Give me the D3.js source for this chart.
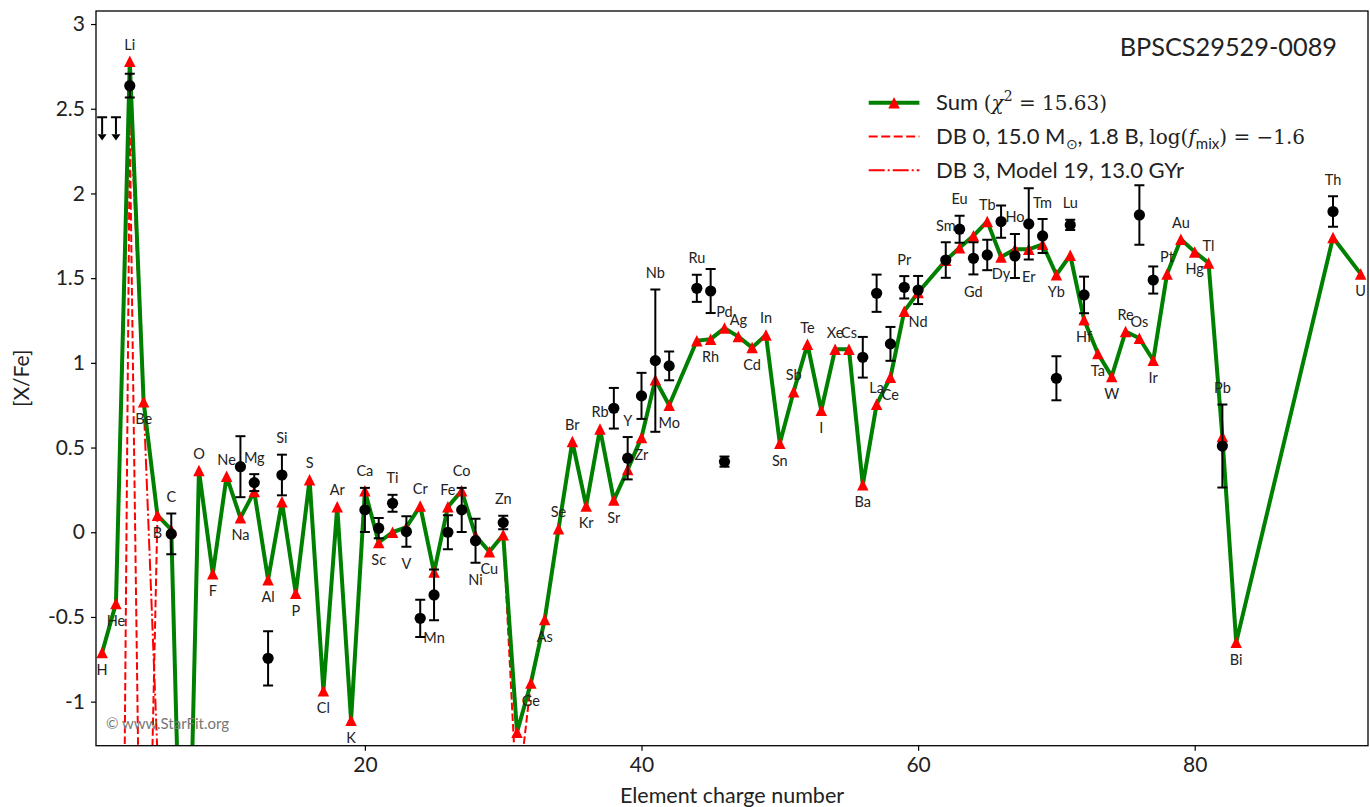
<!DOCTYPE html>
<html>
<head>
<meta charset="utf-8">
<script src="https://cdn.jsdelivr.net/npm/d3@7"></script>
<style>
  body { margin: 0; background: #fff; }
  text { font-family: Lato, "Open Sans", sans-serif; }
</style>
</head>
<body>
<svg id="chart" width="1370" height="807"></svg>
<script>
// Element symbols, Z = 1 .. 92
const elements = ["H","He","Li","Be","B","C","N","O","F","Ne",
  "Na","Mg","Al","Si","P","S","Cl","Ar",
  "K","Ca","Sc","Ti","V","Cr","Mn","Fe","Co","Ni","Cu","Zn","Ga","Ge","As","Se","Br","Kr",
  "Rb","Sr","Y","Zr","Nb","Mo","Tc","Ru","Rh","Pd","Ag","Cd","In","Sn","Sb","Te","I","Xe",
  "Cs","Ba","La","Ce","Pr","Nd","Pm","Sm","Eu","Gd","Tb","Dy","Ho","Er","Tm","Yb","Lu",
  "Hf","Ta","W","Re","Os","Ir","Pt","Au","Hg","Tl","Pb","Bi","Po","At","Rn",
  "Fr","Ra","Ac","Th","Pa","U"];

// Summed model [X/Fe], null where the model has no value
const sumModel = [-0.71,-0.42,2.78,0.77,0.10,0.015,-3.1,0.365,-0.245,0.33,
  0.085,0.24,-0.28,0.18,-0.36,0.31,-0.935,0.15,-1.11,0.245,
  -0.06,0.0,0.03,0.155,-0.235,0.15,0.245,-0.02,-0.115,-0.015,
  -1.18,-0.89,-0.515,0.02,0.535,0.155,0.61,0.19,0.37,0.56,
  0.90,0.75,null,1.13,1.14,1.205,1.155,1.09,1.165,0.525,
  0.83,1.11,0.72,1.08,1.08,0.28,0.755,0.915,1.305,1.415,
  null,1.605,1.68,1.75,1.835,1.625,1.67,1.67,1.70,1.52,
  1.635,1.255,1.055,0.92,1.185,1.145,1.015,1.525,1.73,1.655,
  1.59,0.565,-0.65,null,null,null,null,null,null,1.74,
  null,1.525];

// Component DB 0 (massive star)
const db0Model = [-8.0,-7.6,2.37,-3.7,0.10,0.015,-3.1,0.365,-0.245,0.33,
  0.085,0.24,-0.28,0.18,-0.36,0.31,-0.935,0.15,-1.11,0.245,
  -0.06,0.0,0.03,0.155,-0.235,0.15,0.245,-0.02,-0.115,-0.015,
  -1.6,-0.89,-0.515,0.02,0.535,0.155,0.61,0.19,0.37,0.56,
  0.90,0.75,null,1.13,1.14,1.205,1.155,1.09,1.165,0.525,
  0.83,1.11,0.72,1.08,1.08,0.28,0.755,0.915,1.305,1.415,
  null,1.605,1.68,1.75,1.835,1.625,1.67,1.67,1.70,1.52,
  1.635,1.255,1.055,0.92,1.185,1.145,1.015,1.525,1.73,1.655,
  1.59,0.565,-0.65,null,null,null,null,null,null,1.74,
  null,1.525];

// Component DB 3 (old population), light elements H .. C
const db3Model = [-0.71,-0.42,2.57,0.77,-1.31,-6.0];

// Measured abundances
const obsElements = ["Li","C","Na","Mg","Al","Si","Ca","Sc","Ti","V",
  "Cr","Mn","Fe","Co","Ni","Zn","Sr","Y","Zr","Nb",
  "Mo","Ru","Rh","Pd","Ba","La","Ce","Pr","Nd","Sm",
  "Eu","Gd","Tb","Dy","Ho","Er","Tm","Yb","Lu","Hf",
  "Os","Ir","Pb","Th"];
const obsValues = [2.636,-0.01,0.387,0.293,-0.744,0.338,0.132,0.024,0.171,0.004,
  -0.508,-0.37,0.0,0.132,-0.05,0.057,0.732,0.437,0.805,1.013,
  0.982,1.44,1.424,0.417,1.033,1.411,1.112,1.446,1.43,1.607,
  1.789,1.617,1.637,1.834,1.631,1.82,1.749,0.909,1.814,1.401,
  1.873,1.489,0.509,1.893];
const obsErrors = [0.07,0.12,0.18,0.05,0.16,0.12,0.13,0.06,0.05,0.09,
  0.11,0.15,0.1,0.13,0.13,0.04,0.12,0.125,0.136,0.42,
  0.085,0.08,0.13,0.03,0.12,0.11,0.10,0.066,0.083,0.105,
  0.08,0.095,0.09,0.095,0.13,0.21,0.10,0.13,0.03,0.108,
  0.176,0.08,0.245,0.09];

// Upper limits
const limitElements = ["H","He"];
const limitValues = [2.45, 2.45];

// Label side per element: a = above, b = below, . = none
const labelSide = ("bbabbababa" + "babababa" + "babababaabbabbbaab" +
  "ababab.abaababaaba" + "ababab.aabababababbbaabaabaab..." + "...a.b").split("");

const xTicks = [20, 40, 60, 80];
const yTicks = [3, 2.5, 2, 1.5, 1, 0.5, 0, -0.5, -1];

const starName = "BPSCS29529-0089";

// ---------------------------------------------------------------
const svg = d3.select("#chart");
svg.append("rect").attr("width", 1370).attr("height", 807).attr("fill", "#fff");

const plot = { left: 96, right: 1368, top: 11, bottom: 745.7 };
const x = d3.scaleLinear().domain([0.557, 92.53]).range([plot.left, plot.right]);
const y = d3.scaleLinear().domain([-1.26, 3.077]).range([plot.bottom, plot.top]);

svg.append("clipPath").attr("id", "plotClip")
  .append("rect")
  .attr("x", plot.left).attr("y", plot.top)
  .attr("width", plot.right - plot.left).attr("height", plot.bottom - plot.top);

const zOf = sym => elements.indexOf(sym) + 1;
const toPoints = arr => arr.map((v, i) => ({ z: i + 1, v })).filter(d => d.v !== null);

const line = d3.line().x(d => x(d.z)).y(d => y(d.v));
const g = svg.append("g").attr("clip-path", "url(#plotClip)");

// component lines
g.append("path").datum(toPoints(db0Model))
  .attr("d", line).attr("fill", "none")
  .attr("stroke", "#ff0000").attr("stroke-width", 2)
  .attr("stroke-dasharray", "7.5,3.2");
g.append("path").datum(toPoints(db3Model))
  .attr("d", line).attr("fill", "none")
  .attr("stroke", "#ff0000").attr("stroke-width", 2)
  .attr("stroke-dasharray", "12,3,2,3");

// summed model
const sumPts = toPoints(sumModel);
g.append("path").datum(sumPts)
  .attr("d", line).attr("fill", "none")
  .attr("stroke", "#008000").attr("stroke-width", 4)
  .attr("stroke-linejoin", "round");

const ms = 11.5;
const triPath = `M0,${-ms / 2}L${ms / 2},${ms / 2}L${-ms / 2},${ms / 2}Z`;
g.selectAll(".tri").data(sumPts).enter().append("path")
  .attr("class", "tri")
  .attr("d", triPath)
  .attr("transform", d => `translate(${x(d.z)},${y(d.v)})`)
  .attr("fill", "#ff0000");

// element labels
const obsByZ = {};
obsElements.forEach((s, i) => { obsByZ[zOf(s)] = { v: obsValues[i], e: obsErrors[i] }; });

const labelData = sumPts.filter(d => labelSide[d.z - 1] !== ".").map(d => {
  const side = labelSide[d.z - 1];
  const o = obsByZ[d.z];
  const useObs = o && Math.abs(o.v - d.v) < 0.4;
  let py;
  if (side === "a") {
    const top = useObs ? Math.max(d.v, o.v + o.e) : d.v;
    py = y(top) - 17;
  } else {
    const bot = useObs ? Math.min(d.v, o.v - o.e) : d.v;
    py = y(bot) + 17;
  }
  return { z: d.z, sym: elements[d.z - 1], py };
}).filter(d => d.py > plot.top && d.py < plot.bottom - 4);

svg.append("g").selectAll("text").data(labelData).enter().append("text")
  .attr("x", d => x(d.z)).attr("y", d => d.py)
  .attr("text-anchor", "middle").attr("dominant-baseline", "central")
  .attr("font-size", 14.5).attr("fill", "#222")
  .text(d => d.sym);

// observations with error bars
const obs = obsElements.map((s, i) => ({ z: zOf(s), v: obsValues[i], e: obsErrors[i] }));
const og = svg.append("g").attr("clip-path", "url(#plotClip)");
const cap = 5;
obs.forEach(d => {
  const cx = x(d.z), y1 = y(d.v + d.e), y2 = y(d.v - d.e);
  og.append("line").attr("x1", cx).attr("x2", cx).attr("y1", y1).attr("y2", y2)
    .attr("stroke", "#000").attr("stroke-width", 2);
  [y1, y2].forEach(yy => og.append("line")
    .attr("x1", cx - cap).attr("x2", cx + cap).attr("y1", yy).attr("y2", yy)
    .attr("stroke", "#000").attr("stroke-width", 2));
  og.append("circle").attr("cx", cx).attr("cy", y(d.v)).attr("r", 5.6).attr("fill", "#000");
});

// upper limits
limitElements.forEach((s, i) => {
  const cx = x(zOf(s)), top = y(limitValues[i]), base = y(limitValues[i] - 0.1), tip = y(limitValues[i] - 0.137);
  og.append("line").attr("x1", cx).attr("x2", cx).attr("y1", top).attr("y2", base)
    .attr("stroke", "#000").attr("stroke-width", 2);
  og.append("line").attr("x1", cx - cap).attr("x2", cx + cap).attr("y1", top).attr("y2", top)
    .attr("stroke", "#000").attr("stroke-width", 2);
  og.append("path").attr("d", `M${cx - 4.5},${base}L${cx + 4.5},${base}L${cx},${tip}Z`).attr("fill", "#000");
});

// frame and axes
svg.append("rect")
  .attr("x", plot.left).attr("y", plot.top)
  .attr("width", plot.right - plot.left).attr("height", plot.bottom - plot.top)
  .attr("fill", "none").attr("stroke", "#000").attr("stroke-width", 1.3);

const xAxis = svg.append("g").attr("transform", `translate(0,${plot.bottom})`)
  .call(d3.axisBottom(x).tickValues(xTicks).tickSize(5).tickPadding(6).tickFormat(d => String(d)));
const yAxis = svg.append("g").attr("transform", `translate(${plot.left},0)`)
  .call(d3.axisLeft(y).tickValues(yTicks).tickSize(5).tickPadding(6).tickFormat(d => String(d)));
[xAxis, yAxis].forEach(a => {
  a.select(".domain").remove();
  a.selectAll(".tick line").attr("stroke", "#000").attr("stroke-width", 1.2);
  a.selectAll(".tick text").attr("font-size", 21).attr("fill", "#222")
    .attr("font-family", "Lato, sans-serif");
});

svg.append("text").attr("x", (plot.left + plot.right) / 2).attr("y", 803)
  .attr("text-anchor", "middle").attr("font-size", 21.5).attr("fill", "#222")
  .text("Element charge number");
svg.append("text").attr("transform", `translate(29,${(plot.top + plot.bottom) / 2}) rotate(-90)`)
  .attr("text-anchor", "middle").attr("font-size", 21).attr("fill", "#222")
  .text("[X/Fe]");

// star name
svg.append("text").attr("x", 1337).attr("y", 56)
  .attr("text-anchor", "end").attr("font-size", 25.3).attr("fill", "#222")
  .text(starName);

// copyright
svg.append("text").attr("x", 106).attr("y", 729)
  .attr("font-size", 15).attr("fill", "#777")
  .text("\u00a9 www.StarFit.org");

// legend
const leg = svg.append("g");
const legX0 = 868.7, legX1 = 919.4, legTx = 936;
const rows = [102.8, 136.6, 170.3];
leg.append("line").attr("x1", legX0).attr("x2", legX1).attr("y1", rows[0]).attr("y2", rows[0])
  .attr("stroke", "#008000").attr("stroke-width", 4);
leg.append("path").attr("d", triPath)
  .attr("transform", `translate(${(legX0 + legX1) / 2},${rows[0]})`).attr("fill", "#ff0000");
leg.append("line").attr("x1", legX0).attr("x2", legX1).attr("y1", rows[1]).attr("y2", rows[1])
  .attr("stroke", "#ff0000").attr("stroke-width", 2).attr("stroke-dasharray", "9,3.5");
leg.append("line").attr("x1", legX0).attr("x2", legX1).attr("y1", rows[2]).attr("y2", rows[2])
  .attr("stroke", "#ff0000").attr("stroke-width", 2).attr("stroke-dasharray", "16,3,2,3");

const serif = "'DejaVu Serif', 'Liberation Serif', serif";
const fs = 22;
const mfs = 20;
// row 1
const t1 = leg.append("text").attr("x", legTx).attr("y", rows[0] + 7.5).attr("font-size", fs).attr("fill", "#222");
t1.append("tspan").text("Sum ");
t1.append("tspan").attr("font-family", serif).attr("font-size", mfs).text("(");
t1.append("tspan").attr("font-family", serif).attr("font-size", mfs).attr("font-style", "italic").text("\u03c7");
t1.append("tspan").attr("font-family", serif).attr("font-size", 14).attr("dy", -9).text("2");
t1.append("tspan").attr("font-family", serif).attr("font-size", mfs).attr("dy", 9).text(" = 15.63)");
// row 2
const t2 = leg.append("text").attr("x", legTx).attr("y", rows[1] + 7.5).attr("font-size", fs).attr("fill", "#222");
t2.append("tspan").text("DB 0, 15.0 M");
t2.append("tspan").attr("font-size", 14).attr("dy", 5).text("\u2299");
t2.append("tspan").attr("dy", -5).text(", 1.8 B, ");
t2.append("tspan").attr("font-family", serif).attr("font-size", mfs).text("log(");
t2.append("tspan").attr("font-family", serif).attr("font-size", mfs).attr("font-style", "italic").text("f");
t2.append("tspan").attr("font-size", 15).attr("dy", 5).text("mix");
t2.append("tspan").attr("font-family", serif).attr("font-size", mfs).attr("dy", -5).text(") = \u22121.6");
// row 3
leg.append("text").attr("x", legTx).attr("y", rows[2] + 7.5).attr("font-size", fs).attr("fill", "#222")
  .text("DB 3, Model 19, 13.0 GYr");
</script>
</body>
</html>
